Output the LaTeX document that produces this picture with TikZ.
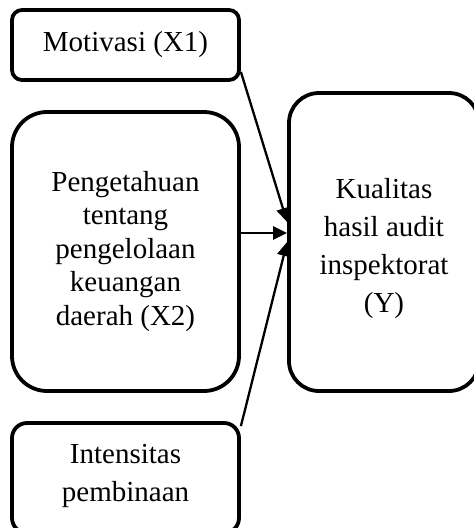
\documentclass[tikz,border=0pt]{standalone}
\usepackage{fontspec}
\setmainfont{Liberation Serif}
\usetikzlibrary{arrows.meta}
\tikzset{
  box/.style={draw=black, line width=3.8pt, align=center, inner sep=0pt, font=\fontsize{29}{33.5}\selectfont},
  conn/.style={line width=2.3pt, -{Triangle[length=14pt,width=13pt]}}
}
\begin{document}
\begin{tikzpicture}[x=1pt,y=-1pt]
\useasboundingbox (0,0) rectangle (474,528);
\clip (0,0) rectangle (474,528);
\node[box, rounded corners=10pt, minimum width=227pt, minimum height=70pt] (x1) at (125.5,45) {Motivasi (X1)};
\node[box, rounded corners=35pt, minimum width=227pt, minimum height=279pt] (x2) at (125.5,251.5) {Pengetahuan\\tentang\\pengelolaan\\keuangan\\daerah (X2)};
\node[box, rounded corners=15pt, minimum width=227pt, minimum height=110pt] (x3) at (125.5,478) {};
\node[font=\fontsize{29}{38}\selectfont, align=center] (x3t) at (125.5,476) {Intensitas\\pembinaan};
\node[box, rounded corners=30pt, minimum width=190pt, minimum height=298pt] (y) at (384,242) {};
\node[font=\fontsize{29}{38}\selectfont, align=center] (yt) at (384,249) {Kualitas\\hasil audit\\inspektorat\\(Y)};
\draw[conn] ([yshift=10pt]x1.south east) -- ([yshift=20pt]y.west);
\draw[conn] ([yshift=18.5pt]x2.east) -- ([yshift=9pt]y.west);
\draw[conn] ([yshift=-5pt]x3.north east) -- (y.west);
\end{tikzpicture}
\end{document}
